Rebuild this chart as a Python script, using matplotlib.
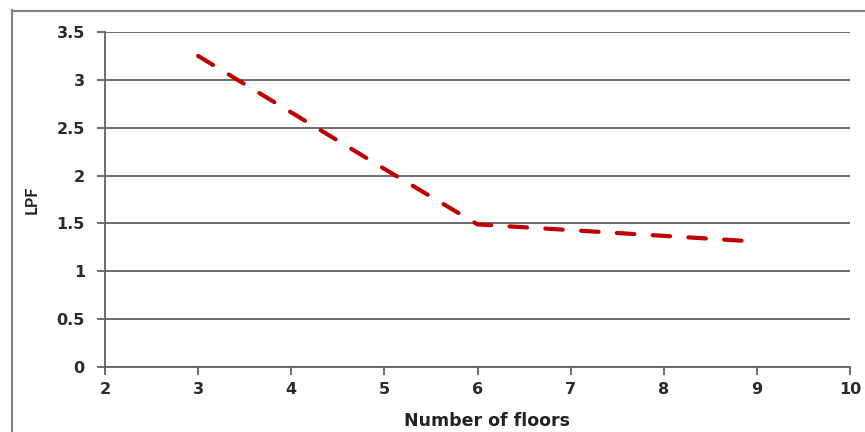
import matplotlib.pyplot as plt
from matplotlib.lines import Line2D

# data
floors = [3, 4, 5, 6, 7, 8, 9]
lpf = [3.25, 2.66, 2.07, 1.49, 1.43, 1.37, 1.31]
x_ticks = [2, 3, 4, 5, 6, 7, 8, 9, 10]
y_ticks = [0, 0.5, 1, 1.5, 2, 2.5, 3, 3.5]
y_labels = ["0", "0.5", "1", "1.5", "2", "2.5", "3", "3.5"]

W, H = 865, 432
fig = plt.figure(figsize=(W / 100, H / 100), dpi=100)
fig.patch.set_facecolor("white")

# outer chart frame (cropped on the right and bottom)
fig.add_artist(Line2D([11.5 / W, 11.5 / W], [0, 1 - 10 / H], transform=fig.transFigure,
                      color="#808080", lw=1.5))
fig.add_artist(Line2D([11.5 / W, 1], [1 - 10.5 / H, 1 - 10.5 / H], transform=fig.transFigure,
                      color="#808080", lw=1.5))

ax = fig.add_axes([105 / W, (H - 367) / H, (850 - 105) / W, (367 - 32) / H])

ax.plot(floors, lpf, color="#C00000", lw=3.0, dashes=(4.2, 4.4),
        solid_capstyle="round", dash_capstyle="round")

ax.set_xlim(2, 10)
ax.set_ylim(0, 3.5)
ax.set_xticks(x_ticks)
ax.set_yticks(y_ticks)
ax.set_yticklabels(y_labels)

ax.grid(True, axis="y", color="#606060", lw=1.3)
ax.set_axisbelow(True)
for s in ["top", "right"]:
    ax.spines[s].set_visible(False)
for s in ["left", "bottom"]:
    ax.spines[s].set_color("#606060")
    ax.spines[s].set_linewidth(1.3)

ax.tick_params(axis="both", direction="out", length=5.5, width=1.3, color="#606060",
               labelsize=11.5, labelcolor="#2a2a2a", labelfontfamily="DejaVu Sans")
ax.tick_params(axis="y", pad=9)
ax.tick_params(axis="x", pad=5)
for lab in ax.get_xticklabels() + ax.get_yticklabels():
    lab.set_fontweight("bold")

ax.set_xlabel("Number of floors", fontsize=12.5, fontweight="bold", family="DejaVu Sans",
              color="#222222")
ax.xaxis.set_label_coords((487.5 - 105) / 745, -0.135)
ax.set_ylabel("LPF", fontsize=12, fontweight="bold", family="Lato",
              color="#222222")
ax.yaxis.set_label_coords((40 - 105) / 745, 0.5)

fig.savefig("out.png", dpi=100)
